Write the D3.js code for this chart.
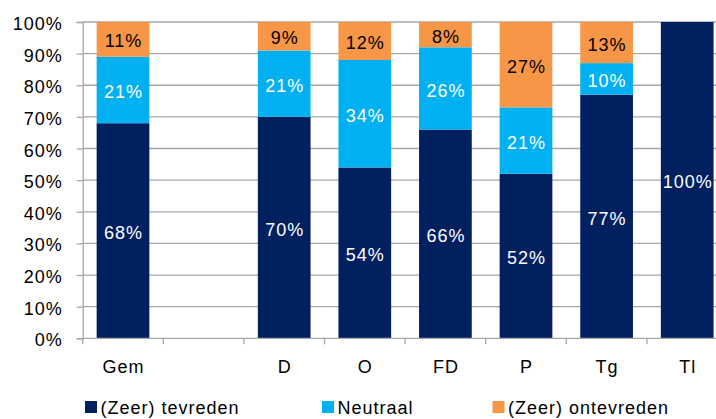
<!DOCTYPE html>
<html>
<head>
<meta charset="utf-8">
<script src="https://cdn.jsdelivr.net/npm/d3@7"></script>
<style>
  html, body { margin: 0; padding: 0; background: #fff; overflow: hidden; }
  svg { display: block; font-family: "Liberation Sans", Arial, sans-serif; }
  text { letter-spacing: 1px; }
</style>
</head>
<body>
<svg id="chart" width="716" height="419"></svg>
<script>
// Categories (the empty one leaves a gap after the average)
const categories = ["Gem", "", "D", "O", "FD", "P", "Tg", "Tl"];
const tevreden   = [68, null, 70, 54, 66, 52, 77, 100];
const neutraal   = [21, null, 21, 34, 26, 21, 10, 0];
const ontevreden = [11, null, 9, 12, 8, 27, 13, 0];
const seriesNames = ["(Zeer) tevreden", "Neutraal", "(Zeer) ontevreden"];
const seriesColors = ["#002060", "#00B0F0", "#F79646"];
const labelColors = ["#ffffff", "#ffffff", "#000000"];
const yTicks = [0, 10, 20, 30, 40, 50, 60, 70, 80, 90, 100];

const FS = 18;
const svg = d3.select("#chart");
const plotLeft = 82.7, plotTop = 22, plotBottom = 338.3, slot = 80.6;
const plotRight = plotLeft + slot * categories.length;

const x = d3.scaleBand().domain(categories.map((c, i) => i)).range([plotLeft, plotRight]).paddingInner(0.346).paddingOuter(0.173);
const y = d3.scaleLinear().domain([0, 100]).range([plotBottom, plotTop]);

// grid lines
svg.append("g").selectAll("line").data(yTicks.slice(1)).join("line")
  .attr("x1", plotLeft).attr("x2", plotRight)
  .attr("y1", d => y(d)).attr("y2", d => y(d))
  .attr("stroke", "#a6a6a6").attr("stroke-width", 1.3);

// stacked data
const rows = categories.map((c, i) => ({ key: i, s0: tevreden[i], s1: neutraal[i], s2: ontevreden[i] }));
const stack = d3.stack().keys(["s0", "s1", "s2"]).value((d, k) => d[k] || 0);
const stacked = stack(rows);

const gBars = svg.append("g");
stacked.forEach((layer, li) => {
  gBars.append("g").selectAll("rect").data(layer.filter(d => d[1] > d[0])).join("rect")
    .attr("x", d => x(d.data.key))
    .attr("width", x.bandwidth())
    .attr("y", d => y(d[1]))
    .attr("height", d => y(d[0]) - y(d[1]))
    .attr("fill", seriesColors[li]);
});

// value labels
stacked.forEach((layer, li) => {
  gBars.append("g").selectAll("text").data(layer.filter(d => d[1] > d[0])).join("text")
    .attr("x", d => x(d.data.key) + x.bandwidth() / 2 + 0.5)
    .attr("y", d => y((d[0] + d[1]) / 2))
    .attr("dy", "0.45em")
    .attr("text-anchor", "middle")
    .attr("font-size", FS)
    .attr("fill", labelColors[li])
    .text(d => Math.round(d[1] - d[0]) + "%");
});

// y axis
const yAxis = d3.axisLeft(y).tickValues(yTicks).tickFormat(d => d + "%").tickSize(6).tickPadding(14);
const gy = svg.append("g").attr("transform", `translate(${plotLeft},0)`).call(yAxis);
gy.select(".domain").attr("stroke", "#a6a6a6").attr("stroke-width", 1.3);
gy.selectAll(".tick line").attr("stroke", "#a6a6a6").attr("stroke-width", 1.3);
gy.selectAll(".tick text").attr("font-size", FS).attr("fill", "#000")
  .attr("font-family", "Liberation Sans, Arial, sans-serif").attr("dy", "0.42em");

// x axis: ticks between categories
const gx = svg.append("g").attr("transform", `translate(0,${plotBottom})`);
gx.append("line").attr("x1", plotLeft).attr("x2", plotRight).attr("y1", 0).attr("y2", 0)
  .attr("stroke", "#a6a6a6").attr("stroke-width", 1.3);
gx.selectAll("line.tk").data(d3.range(categories.length + 1)).join("line").attr("class", "tk")
  .attr("x1", i => plotLeft + i * slot).attr("x2", i => plotLeft + i * slot)
  .attr("y1", 0).attr("y2", 6)
  .attr("stroke", "#a6a6a6").attr("stroke-width", 1.3);
gx.selectAll("text").data(categories).join("text")
  .attr("x", (c, i) => x(i) + x.bandwidth() / 2 + 0.5)
  .attr("y", 34.5)
  .attr("text-anchor", "middle")
  .attr("font-size", FS)
  .attr("fill", "#000")
  .text(d => d);

// legend
const legendX = [85, 322, 492.5];
const lg = svg.append("g");
seriesNames.forEach((n, i) => {
  lg.append("rect").attr("x", legendX[i]).attr("y", 401).attr("width", 12).attr("height", 12).attr("fill", seriesColors[i]);
  lg.append("text").attr("x", legendX[i] + 15.5).attr("y", 413.5).attr("font-size", FS).attr("fill", "#000").text(n);
});
</script>
</body>
</html>
